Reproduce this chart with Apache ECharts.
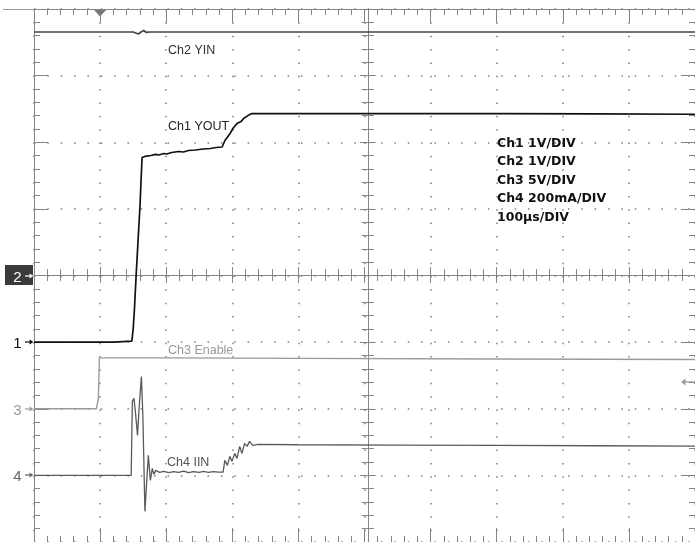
<!DOCTYPE html>
<html><head><meta charset="utf-8">
<script src="https://cdn.jsdelivr.net/npm/echarts@6/dist/echarts.min.js"></script>
<style>html,body{margin:0;padding:0;background:#fff}#c{width:695px;height:542px}</style>
</head><body><div id="c"></div>
<script>
// time in microseconds (100 us/div), trigger at t = 0
const ch1VOUT = [[-100,0],[20,0],[22,0.015],[48,0.015],[50,0.19],[52,0.5],[54.5,1.0],[57.5,1.54],[60.5,2.07],[62,2.44],[63.5,2.77],[67.8,2.787],[70.8,2.772],[76.8,2.801],[84.3,2.817],[88.8,2.809],[96.3,2.831],[100.7,2.824],[108.2,2.846],[118.7,2.861],[126.2,2.854],[133.7,2.876],[144.2,2.884],[156.2,2.899],[166.7,2.906],[175.7,2.921],[184.6,2.929],[186.1,2.94],[189.1,3.03],[193.6,3.09],[196.6,3.13],[201.1,3.21],[204.1,3.24],[207.1,3.28],[210.1,3.25],[213.1,3.31],[217.6,3.36],[223.6,3.40],[229.6,3.43],[300,3.43],[450,3.43],[600,3.43],[750,3.425],[900,3.42]];
const ch2VIN = [[-100,3.655],[50,3.655],[52,3.633],[58,3.625],[62,3.655],[66,3.678],[70,3.648],[75,3.655],[900,3.655]];
const ch3Enable = [[-100,0],[-5.6,0],[-2.6,0.75],[-1.1,3.82],[100,3.82],[300,3.78],[600,3.73],[900,3.70]];
const ch4IIN = [[-100,0],[47,0],[48.8,222],[51.3,231],[53.6,186],[56.6,120],[59.5,216],[62.5,297],[64.8,171],[67.8,-108],[70.8,-9],[73,60],[76,-15],[79,21],[81.3,3],[84.3,15],[90,9],[96.3,12],[104,8],[111.2,11],[119,9],[126.2,13],[134,8],[141.2,11],[150,9],[156.2,12],[164,9],[171.2,11],[179,10],[186.1,10],[188.7,45],[192.6,30],[196.2,57],[199.6,42],[203.7,66],[207.1,51],[211.2,87],[214.6,66],[218.6,96],[222.5,87],[226.1,102],[231.1,90],[238.6,93],[300,92],[450,91],[600,90],[750,89],[900,88]];

const traceLabels = ['Ch2 YIN','Ch1 YOUT','Ch3 Enable','Ch4 IIN'];
const scaleLabels = ['Ch1 1V/DIV','Ch2 1V/DIV','Ch3 5V/DIV','Ch4 200mA/DIV','100\u00b5s/DIV'];
const refMarkers = ['1','2','3','4'];
const ch3TriggerLevel = 2.0;

const BORDER = '#858585';
const DOT = '#7e7e7e';
const chart = echarts.init(document.getElementById('c'), null, {renderer:'canvas'});

function xAx(pos, offset, inside, len, showLine, split) {
  return {type:'value', min:-100, max:900, interval:100, position:pos, offset:offset,
    axisLine:{show:showLine, onZero:false, lineStyle:{color:BORDER, width:1}},
    axisTick:{show:true, inside:inside, length:len, lineStyle:{color:BORDER}},
    minorTick:{show:true, splitNumber:5, length:6, lineStyle:{color:BORDER}},
    axisLabel:{show:false},
    splitLine:{show:split, lineStyle:{color:DOT, width:1.5, type:[1.5,11.85]}},
    minorSplitLine:{show:false}};
}
function yAx(pos, offset, inside, len, showLine, split) {
  return {type:'value', min:-3, max:5, interval:1, position:pos, offset:offset,
    axisLine:{show:showLine, onZero:false, lineStyle:{color:BORDER, width:1}},
    axisTick:{show:true, inside:inside, length:len, lineStyle:{color:BORDER}},
    minorTick:{show:true, splitNumber:5, length:6, lineStyle:{color:BORDER}},
    axisLabel:{show:false},
    splitLine:{show:split, lineStyle:{color:DOT, width:1.5, type:[1.5,11.85]}},
    minorSplitLine:{show:false}};
}
function hidden(min, max) {
  return {type:'value', min:min, max:max, show:false, axisLine:{onZero:false}, splitLine:{show:false}};
}

chart.setOption({
  animation:false,
  backgroundColor:'#fff',
  grid:{left:34, top:9, width:667.5, height:534, containLabel:false},
  xAxis:[
    xAx('bottom', 0, true, 14, true, true),
    xAx('top', 0, true, 14, true, false),
    xAx('bottom', -267, true, 8, true, false),
    xAx('bottom', -267, false, 8, false, false)
  ],
  yAxis:[
    yAx('left', 0, true, 14, true, true),       // Ch1 volts, ref 3 div above bottom
    hidden(-4, 4),                              // Ch2 volts
    hidden(-10, 30),                            // Ch3 volts
    hidden(-200, 1400),                         // Ch4 mA
    yAx('right', 0, true, 14, true, false),
    yAx('left', -333.75, true, 8, true, false),
    yAx('left', -333.75, false, 8, false, false)
  ],
  series:[
    {type:'line', xAxisIndex:0, yAxisIndex:2, data:ch3Enable, showSymbol:false, lineStyle:{color:'#9a9a9a', width:1.4}, z:3},
    {type:'line', xAxisIndex:0, yAxisIndex:3, data:ch4IIN, showSymbol:false, lineStyle:{color:'#5a5a5a', width:1.3}, z:4},
    {type:'line', xAxisIndex:0, yAxisIndex:1, data:ch2VIN, showSymbol:false, lineStyle:{color:'#444', width:1.7}, z:5},
    {type:'line', xAxisIndex:0, yAxisIndex:0, data:ch1VOUT, showSymbol:false, lineStyle:{color:'#111', width:1.7}, z:6}
  ]
});

const px = v => chart.convertToPixel({xAxisIndex:0}, v);
const py = (k, v) => chart.convertToPixel({yAxisIndex:k}, v);

const g = [];
const lblFont = '12.5px "Liberation Sans", Arial, sans-serif';
const lblPos = [[168,50.5,'#333'],[168,127,'#222'],[168,351,'#999'],[167,463,'#555']];
traceLabels.forEach((t,i)=>{
  g.push({type:'text', x:lblPos[i][0], y:lblPos[i][1], z:10,
    style:{text:t, fill:lblPos[i][2], font:lblFont, align:'left', verticalAlign:'middle'}});
});
const legY = [143.3,161.8,180.3,199,217.8];
scaleLabels.forEach((t,i)=>{
  g.push({type:'text', x:497, y:legY[i], z:10,
    style:{text:t, fill:'#111', font:'bold 12.5px "DejaVu Sans", sans-serif', align:'left', verticalAlign:'middle'}});
});

// reference-level markers in the left gutter
const chAxis = {'1':0,'2':1,'3':2,'4':3};
const mkColor = {'1':'#111','2':'#fff','3':'#999','4':'#666'};
refMarkers.forEach(m=>{
  const y = Math.round(py(chAxis[m], 0));
  const c = mkColor[m];
  if (m === '2') {
    g.push({type:'rect', shape:{x:5, y:y-11, width:28, height:20}, style:{fill:'#3a3a3a'}, z:9});
  }
  g.push({type:'text', x:17.5, y:y+2, z:10, style:{text:m, fill:c, font:'15px "Liberation Sans", Arial, sans-serif', align:'center', verticalAlign:'middle'}});
  g.push({type:'line', shape:{x1:25, y1:y, x2:31, y2:y}, style:{stroke:c, lineWidth:1.2}, z:10});
  g.push({type:'polygon', shape:{points:[[29.5,y-2.5],[33.5,y],[29.5,y+2.5]]}, style:{fill:c}, z:10});
});

// trigger position marker at top
const tx = px(0);
g.push({type:'polygon', shape:{points:[[tx-6,10],[tx+6,10],[tx,16.5]]}, style:{fill:'#777'}, z:10});
// trigger level arrow on right
const ty = Math.round(py(2, ch3TriggerLevel));
g.push({type:'line', shape:{x1:685, y1:ty, x2:695, y2:ty}, style:{stroke:'#999', lineWidth:1.3}, z:10});
g.push({type:'polygon', shape:{points:[[685.5,ty-3.5],[681,ty],[685.5,ty+3.5]]}, style:{fill:'#999'}, z:10});
// short top-left line
g.push({type:'line', shape:{x1:3, y1:9.5, x2:34, y2:9.5}, style:{stroke:'#999', lineWidth:1}, z:10});

chart.setOption({graphic:g});
</script></body></html>
